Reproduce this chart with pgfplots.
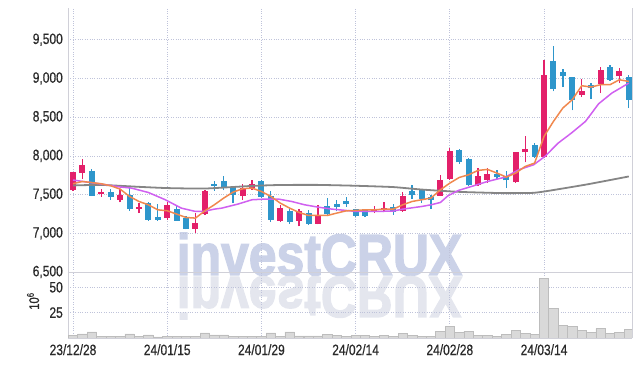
\documentclass[border=0pt]{standalone}
\usepackage{fontspec}
\setmainfont[FakeStretch=0.8, FakeBold=0.5]{Liberation Sans}
\newfontfamily\wmfont[BoldFeatures={FakeBold=2.5}]{Liberation Sans}
\usepackage{pgfplots}
\usepackage{pgfplotstable}
\pgfplotsset{compat=1.18}
\definecolor{upc}{HTML}{E3206A}
\definecolor{dnc}{HTML}{2E96CB}
\definecolor{maA}{HTML}{F0884E}
\definecolor{maB}{HTML}{D060F0}
\definecolor{maC}{HTML}{858585}
\definecolor{gridc}{HTML}{BFC3DA}
\definecolor{framec}{HTML}{D0D0D8}
\definecolor{wm}{HTML}{CBD2E8}
\definecolor{wmr}{HTML}{E4E6EE}
\definecolor{volf}{HTML}{D9D9D9}
\definecolor{vold}{HTML}{BDBDBD}
\definecolor{txt}{HTML}{2A2A2A}

\pgfplotstableread{
i O H L C
0 7553 7790 7550 7786
1 7778 7962 7700 7885
3 7506 7575 7472 7532
5 7433 7575 7398 7497
7 7316 7390 7261 7342
10 7196 7403 7174 7368
13 7058 7261 7003 7136
14 7248 7560 7235 7549
18 7488 7636 7433 7584
19 7579 7691 7560 7631
22 7161 7368 7150 7333
24 7165 7316 7088 7282
26 7123 7368 7115 7226
32 7291 7355 7261 7316
33 7295 7403 7269 7329
35 7291 7532 7280 7484
39 7488 7747 7480 7691
40 7704 8101 7690 8057
43 7627 7842 7615 7734
44 7691 7840 7650 7760
47 7657 8055 7650 8049
48 8044 8251 7915 8092
50 7980 9233 7970 9048
54 8790 8992 8760 8841
56 8927 9147 8811 9112
58 9026 9138 8940 9100
}\upc

\pgfplotstableread{
i O H L C
2 7807 7830 7480 7488
4 7527 7571 7433 7468
6 7497 7584 7290 7316
8 7390 7400 7160 7174
9 7204 7381 7165 7178
11 7316 7355 7160 7165
12 7200 7217 7050 7058
15 7643 7678 7549 7610
16 7678 7743 7553 7584
17 7584 7600 7390 7497
20 7678 7690 7455 7468
21 7476 7549 7145 7174
23 7291 7325 7123 7149
25 7261 7295 7110 7123
27 7355 7455 7217 7248
28 7377 7433 7282 7346
29 7411 7468 7340 7373
30 7312 7320 7215 7226
31 7312 7320 7210 7217
34 7338 7381 7239 7274
36 7540 7627 7446 7501
37 7562 7575 7390 7446
38 7463 7497 7316 7424
41 8079 8092 7900 7915
42 7963 7975 7615 7627
45 7765 7812 7700 7721
46 7734 7807 7584 7682
49 8143 8165 7970 7984
51 9229 9422 8832 8867
52 9078 9121 8889 9026
53 9013 9020 8587 8716
55 8919 8940 8734 8876
57 9142 9177 8970 8983
59 9013 9048 8618 8725
}\dnc

\pgfplotstableread{
i V
0 2.6
1 4
2 6
3 1.5
4 1.5
5 1.5
6 4
7 1.5
8 3
9 1
10 1.2
11 1.5
12 1.5
13 1.5
14 5
15 3
16 3
17 1.5
18 1.5
19 1.5
20 1.5
21 5
22 1.5
23 6
24 2
25 2
26 2
27 3.5
28 2.5
29 1.5
30 2.3
31 2.7
32 1.3
33 2.7
34 1.3
35 4.7
36 2.7
37 1.3
38 1.3
39 6.3
40 11.7
41 5.7
42 6.7
43 2.7
44 2.7
45 1.3
46 3.7
47 7.7
48 4.7
49 3.7
50 58.7
51 29.3
52 12.7
53 11.7
54 7.7
55 5.7
56 9.3
57 4.7
58 5.7
59 8.3
}\vol

\pgfplotsset{
  common/.style={
    scale only axis, width=564bp,
    xmin=-0.531, xmax=59.34,
    xtick={0,10,...,50},
    grid=major,
    grid style={gridc, dotted, line width=0.7bp},
    separate axis lines,
    every outer x axis line/.append style={draw=none},
    every outer y axis line/.append style={framec, line width=0.8bp},
    major tick length=0pt,
    tick label style={font=\fontsize{15bp}{15bp}\selectfont, text=txt},
    yticklabel style={anchor=east, inner sep=0pt, xshift=-5bp},
    xticklabel style={anchor=north, inner sep=0pt, yshift=-6bp},
    /pgf/number format/assume math mode=true,
    /pgf/number format/1000 sep={,},
  },
  candle/.style 2 args={draw=none, mark=none, forget plot,
    error bars/.cd, y dir=plus, y explicit, error mark=none,
    error bar style={draw=#1, solid, line width=#2}},
}

\begin{document}
\begin{tikzpicture}
\path[use as bounding box] (-68bp,-28bp) rectangle (574bp,338bp);
\node[anchor=base, xscale=0.86, text=wm, inner sep=0pt,
  font=\wmfont\bfseries\fontsize{58bp}{58bp}\selectfont] at (251.5bp,63bp) {investCRUX};
\node[anchor=base, xscale=0.86, yscale=-1, text=wmr, inner sep=0pt,
  font=\wmfont\bfseries\fontsize{58bp}{58bp}\selectfont] at (251.5bp,61bp) {investCRUX};

\begin{axis}[common,
  at={(0,66bp)}, anchor=south west, height=264bp,
  ymin=6500, ymax=9910,
  ytick={6500,7000,...,9500},
  xticklabels={},
]
% wicks
\addplot[candle={upc}{1.3bp}]
  table[x=i, y=L, y error plus expr=\thisrow{H}-\thisrow{L}] {\upc};
\addplot[candle={dnc}{1.3bp}]
  table[x=i, y=L, y error plus expr=\thisrow{H}-\thisrow{L}] {\dnc};
% bodies
\addplot[candle={upc}{6bp}]
  table[x=i, y=O, y error plus expr=\thisrow{C}-\thisrow{O}] {\upc};
\addplot[candle={dnc}{6bp}]
  table[x=i, y=C, y error plus expr=\thisrow{O}-\thisrow{C}] {\dnc};
% moving averages
\addplot[maC, line width=1.8bp, smooth, tension=0.3] coordinates {
(0,7618) (3,7625) (7,7600) (10,7584) (14,7578) (19,7612) (22,7624) (26,7625)
(30,7614) (34,7597) (37,7565) (41,7535) (45.6,7519) (48.8,7522) (50.3,7545)
(54.5,7630) (59,7734)};
\addplot[maB, line width=1.5bp] coordinates {
(0,7688) (1,7670) (3,7636) (5,7598) (6.2,7584) (8,7527) (9.8,7433) (11.5,7325)
(13,7282) (14,7285) (15,7312) (15.8,7325) (17.5,7377) (19,7433) (20.4,7442)
(21.8,7442) (23.2,7411) (24.6,7368) (26,7338) (27.5,7312) (29,7295) (30,7282)
(32,7282) (34,7287) (35,7312) (37,7346) (38,7368) (39,7398) (39.8,7484)
(40.9,7553) (42.3,7605) (44,7669) (45.9,7726) (47.3,7820) (48.9,7885)
(50.1,7993) (51.5,8165) (52.9,8294) (54.4,8445) (55.8,8673) (57.2,8811) (59,8940)};
\addplot[maA, line width=1.5bp] coordinates {
(0,7640) (1,7669) (2,7655) (3,7640) (4,7614) (5,7571) (6,7476) (7,7411) (8,7368)
(9,7303) (10,7291) (11,7248) (12,7204) (13,7196) (14,7290) (15,7368) (16,7455)
(17,7532) (18,7575) (19,7584) (20,7540) (21,7476) (22,7390) (23,7325) (24,7269)
(25,7230) (26,7230) (27,7230) (28,7261) (29,7290) (30,7295) (31,7303) (32,7303)
(33,7312) (34,7312) (35,7368) (36,7411) (37,7433) (38,7455) (39,7562) (40,7648)
(41,7721) (42,7756) (43,7812) (44,7825) (45,7778) (46,7726) (47,7778) (48,7863)
(49,7907) (50,8251) (51,8445) (52,8618) (53,8725) (54,8906) (55,8889) (56,8919)
(57,8919) (58,8983) (59,8961)};
\end{axis}

\begin{axis}[common,
  at={(0,0)}, anchor=south west, height=66bp,
  ymin=0, ymax=65,
  ytick={25,50},
  xticklabels={23/12/28,24/01/15,24/01/29,24/02/14,24/02/28,24/03/14},
  every outer x axis line/.append style={draw=framec, line width=0.8bp},
  ylabel={10\textsuperscript{6}},
  ylabel style={at={(axis description cs:-0.062,0.56)}, anchor=center,
    font=\fontsize{14bp}{14bp}\selectfont, text=txt},
]
\addplot[ybar, bar width=9.42bp, fill=volf, draw=vold, line width=0.6bp]
  table[x=i, y=V] {\vol};
\end{axis}
\end{tikzpicture}
\end{document}
